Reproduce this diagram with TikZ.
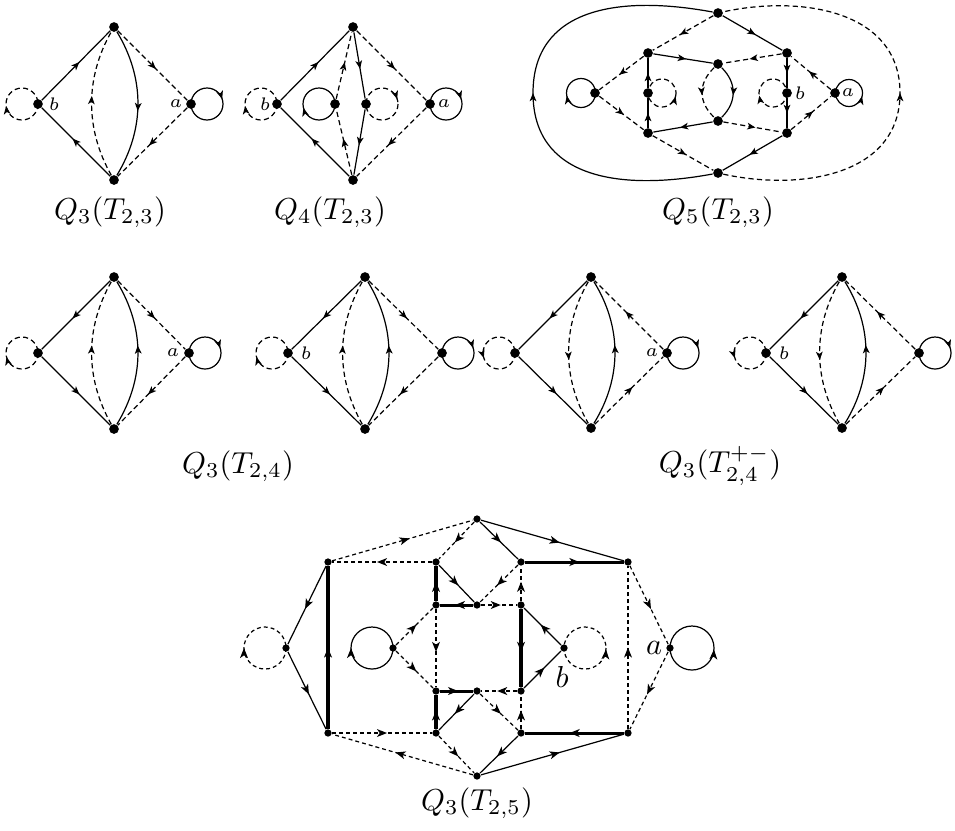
\documentclass[tikz,border=0pt]{standalone}
\usetikzlibrary{arrows.meta,decorations.markings}
\tikzset{
  dot/.style={circle,fill,inner sep=0pt,minimum size=3.2pt},
  sdot/.style={circle,fill,inner sep=0pt,minimum size=2.4pt},
  dsh/.style={dash pattern=on 1.7pt off 1.1pt},
  bdsh/.style={dash pattern=on 1.3pt off 1pt},
  thk/.style={line width=1pt},
  am/.style={postaction={decorate},decoration={markings,mark=at position #1 with {\arrow{Stealth[length=2.7pt,width=2.2pt,inset=0.7pt]}}}},
  am/.default=0.55,
  amr/.style={postaction={decorate},decoration={markings,mark=at position #1 with {\arrowreversed{Stealth[length=2.7pt,width=2.2pt,inset=0.7pt]}}}},
  bm/.style={postaction={decorate},decoration={markings,mark=at position #1 with {\arrow{Stealth[length=3.3pt,width=2.6pt,inset=0.9pt]}}}},
  bm/.default=0.55,
  bmr/.style={postaction={decorate},decoration={markings,mark=at position #1 with {\arrowreversed{Stealth[length=3.3pt,width=2.6pt,inset=0.9pt]}}}},
  lbl/.style={font=\fontsize{6}{7}\selectfont,inner sep=0pt},
  blbl/.style={inner sep=0pt},
  captxt/.style={inner sep=0pt},
}
\begin{document}
\begin{tikzpicture}[x=0.33pt,y=-0.33pt,line width=0.4pt]
\useasboundingbox (0,0) rectangle (955,830);

% ---------- Q3(T2,3)
\node[dot] (At) at (114,27) {};
\node[dot] (Ab) at (114,180) {};
\node[dot] (Al) at (38,104) {};
\node[dot] (Ar) at (191,104) {};
\draw[am] (Al) -- (At);
\draw[am] (Ab) -- (Al);
\draw[dsh,am] (At) -- (Ar);
\draw[dsh,am] (Ar) -- (Ab);
\draw[dsh,am] (Ab) .. controls +(-29,-51) and +(-29,51) .. (At);
\draw[am] (At) .. controls +(31,51) and +(31,-51) .. (Ab);
\draw[dsh,am=0.48] (22,104) circle[radius=16];
\draw[am=0.95] (207,104) circle[radius=16];
\node[lbl] at (54,104) {$b$};
\node[lbl] at (176,104) {$a$};
\node[captxt] at (110,212) {$Q_3(T_{2,3})$};

% ---------- Q4(T2,3)
\node[dot] (Bt) at (353,27) {};
\node[dot] (Bb) at (353,180) {};
\node[dot] (Bl) at (277,104) {};
\node[dot] (Bi) at (335,104) {};
\node[dot] (Bj) at (366,104) {};
\node[dot] (Br) at (430,104) {};
\draw[am] (Bl) -- (Bt);
\draw[am] (Bb) -- (Bl);
\draw[dsh,am] (Bt) -- (Br);
\draw[dsh,am] (Br) -- (Bb);
\draw[dsh,am] (Bi) -- (Bt);
\draw[dsh,am] (Bb) -- (Bi);
\draw[am] (Bt) -- (Bj);
\draw[am] (Bj) -- (Bb);
\draw[dsh,am=0.48] (261,104) circle[radius=16];
\draw[am=0.46] (319,104) circle[radius=16];
\draw[dsh,am=0.95] (382,104) circle[radius=16];
\draw[am=0.95] (446,104) circle[radius=16];
\node[lbl] at (265,104) {$b$};
\node[lbl] at (444,104) {$a$};
\node[captxt] at (330,212) {$Q_4(T_{2,3})$};

% ---------- Q5(T2,3)
\node[dot] (Ct) at (718,13) {};
\node[dot] (Cb) at (718,173) {};
\node[dot] (Cul) at (648,53) {};
\node[dot] (Cur) at (787,53) {};
\node[dot] (Cll) at (648,133) {};
\node[dot] (Clr) at (787,133) {};
\node[dot] (Cct) at (718,64) {};
\node[dot] (Ccb) at (718,121) {};
\node[dot] (Cml) at (648,93) {};
\node[dot] (Cmr) at (787,93) {};
\node[dot] (Cl) at (595,93) {};
\node[dot] (Ca) at (835,93) {};
\draw[am] (Ct) -- (Cur);
\draw[dsh,am] (Ct) -- (Cul);
\draw[dsh,am] (Cul) -- (Cl);
\draw[dsh,am] (Cl) -- (Cll);
\draw[dsh,am] (Cll) -- (Cb);
\draw[am] (Clr) -- (Cb);
\draw[dsh,am] (Ca) -- (Cur);
\draw[dsh,am] (Clr) -- (Ca);
\draw[am] (Cul) -- (Cct);
\draw[dsh,am] (Cur) -- (Cct);
\draw[am] (Ccb) -- (Cll);
\draw[dsh,am] (Ccb) -- (Clr);
\draw[am=0.5] (Cll) -- (Cml);
\draw[am=0.5] (Cml) -- (Cul);
\draw[am=0.5] (Cur) -- (Cmr);
\draw[am=0.5] (Cmr) -- (Clr);
\draw[dsh,am=0.55] (Cct) .. controls +(-20,19) and +(-20,-19) .. (Ccb);
\draw[am=0.55] (Cct) .. controls +(19,19) and +(19,-19) .. (Ccb);
\draw[am=0.5] (Cb) .. controls (615,192) and (533,176) .. (533,93) .. controls (533,10) and (615,-6) .. (Ct);
\draw[dsh,am=0.5] (Cb) .. controls (800,191) and (900,176) .. (900,93) .. controls (900,10) and (800,-5) .. (Ct);
\draw[am=0.47] (581,93) circle[radius=14.5];
\draw[dsh,amr=0.04] (662,93) circle[radius=14];
\draw[dsh,am=0.47] (773,93) circle[radius=14];
\draw[amr=0.04] (849,93) circle[radius=13.5];
\node[lbl] at (800,93) {$b$};
\node[lbl] at (848,93) {$a$};
\node[captxt] at (718,212) {$Q_5(T_{2,3})$};

% ---------- Q3(T2,4) left
\node[dot] (Dt) at (114,277) {};
\node[dot] (Db) at (114,429) {};
\node[dot] (Dl) at (38,353) {};
\node[dot] (Dr) at (189,353) {};
\draw[am] (Dt) -- (Dl);
\draw[am] (Dl) -- (Db);
\draw[dsh,am] (Dt) -- (Dr);
\draw[dsh,am] (Dr) -- (Db);
\draw[dsh,am] (Db) .. controls +(-29,-51) and +(-29,51) .. (Dt);
\draw[am] (Db) .. controls +(31,-51) and +(31,51) .. (Dt);
\draw[dsh,am=0.46] (22,353) circle[radius=16];
\draw[am=0.95] (205,353) circle[radius=16];
\node[lbl] at (173,353) {$a$};

% ---------- Q3(T2,4) right
\node[dot] (Et) at (365,277) {};
\node[dot] (Eb) at (365,429) {};
\node[dot] (El) at (288,353) {};
\node[dot] (Er) at (442,353) {};
\draw[am] (Et) -- (El);
\draw[am] (El) -- (Eb);
\draw[dsh,am] (Et) -- (Er);
\draw[dsh,am] (Er) -- (Eb);
\draw[dsh,am] (Eb) .. controls +(-29,-51) and +(-29,51) .. (Et);
\draw[am] (Eb) .. controls +(31,-51) and +(31,51) .. (Et);
\draw[dsh,am=0.46] (272,353) circle[radius=16];
\draw[am=0.95] (458,353) circle[radius=16];
\node[lbl] at (306,353) {$b$};
\node[captxt] at (238,466) {$Q_3(T_{2,4})$};

% ---------- Q3(T2,4^{+-}) left
\node[dot] (Ft) at (591,277) {};
\node[dot] (Fb) at (591,428) {};
\node[dot] (Fl) at (515,353) {};
\node[dot] (Fr) at (667,353) {};
\draw[am] (Ft) -- (Fl);
\draw[am] (Fl) -- (Fb);
\draw[dsh,am] (Fr) -- (Ft);
\draw[dsh,am] (Fb) -- (Fr);
\draw[dsh,am] (Ft) .. controls +(-29,50) and +(-29,-50) .. (Fb);
\draw[am] (Fb) .. controls +(31,-50) and +(31,50) .. (Ft);
\draw[dsh,amr=0.45] (499,353) circle[radius=16];
\draw[am=0.95] (683,353) circle[radius=16];
\node[lbl] at (652,353) {$a$};

% ---------- Q3(T2,4^{+-}) right
\node[dot] (Gt) at (842,277) {};
\node[dot] (Gb) at (842,428) {};
\node[dot] (Gl) at (766,353) {};
\node[dot] (Gr) at (919,353) {};
\draw[am] (Gt) -- (Gl);
\draw[am] (Gl) -- (Gb);
\draw[dsh,am] (Gr) -- (Gt);
\draw[dsh,am] (Gb) -- (Gr);
\draw[dsh,am] (Gt) .. controls +(-29,50) and +(-29,-50) .. (Gb);
\draw[am] (Gb) .. controls +(31,-50) and +(31,50) .. (Gt);
\draw[dsh,amr=0.45] (750,353) circle[radius=16];
\draw[am=0.95] (935,353) circle[radius=16];
\node[lbl] at (784,353) {$b$};
\node[captxt] at (720,466) {$Q_3(T^{+-}_{2,4})$};

% ---------- Q3(T2,5)
\node[sdot] (N1) at (477,519) {};
\node[sdot] (N2) at (477,776) {};
\node[sdot] (L1) at (328,562) {};
\node[sdot] (L2) at (328,733) {};
\node[sdot] (Lo) at (286,648) {};
\node[sdot] (C1) at (393,648) {};
\node[sdot] (A1) at (436,562) {};
\node[sdot] (A2) at (436,605) {};
\node[sdot] (A3) at (436,691) {};
\node[sdot] (A4) at (436,733) {};
\node[sdot] (B2) at (477,605) {};
\node[sdot] (B3) at (477,691) {};
\node[sdot] (D1) at (521,562) {};
\node[sdot] (D2) at (521,605) {};
\node[sdot] (D3) at (521,691) {};
\node[sdot] (D4) at (521,733) {};
\node[sdot] (Hb) at (564,648) {};
\node[sdot] (R1) at (628,562) {};
\node[sdot] (R2) at (628,733) {};
\node[sdot] (Ha) at (670,648) {};
% thin solid
\draw[bm] (N1) -- (R1);
\draw[bm] (N1) -- (D1);
\draw[bm] (L1) -- (Lo);
\draw[bm] (Lo) -- (L2);
\draw[bm] (A1) -- (B2);
\draw[bm] (B3) -- (A4);
\draw[bm] (Hb) -- (D2);
\draw[bm] (D3) -- (Hb);
\draw[bm] (D4) -- (N2);
\draw[bm] (N2) -- (R2);
% thick
\draw[thk,bm=0.5] (L2) -- (L1);
\draw[thk,bm] (A2) -- (A1);
\draw[thk,bm] (B2) -- (A2);
\draw[thk,bm] (A3) -- (B3);
\draw[thk,bm] (A4) -- (A3);
\draw[thk,bm] (D1) -- (R1);
\draw[thk,bm] (D2) -- (D3);
\draw[thk,bm] (R2) -- (D4);
% dashed
\draw[bdsh,bm] (L1) -- (N1);
\draw[bdsh,bm] (A1) -- (L1);
\draw[bdsh,bm] (N1) -- (A1);
\draw[bdsh,bm] (L2) -- (A4);
\draw[bdsh,bm] (N2) -- (L2);
\draw[bdsh,bm] (A4) -- (N2);
\draw[bdsh,bm] (C1) -- (A2);
\draw[bdsh,bm] (C1) -- (A3);
\draw[bdsh,bm] (A2) -- (A3);
\draw[bdsh,bm] (D1) -- (B2);
\draw[bdsh,bm] (D2) -- (D1);
\draw[bdsh,bm] (B2) -- (D2);
\draw[bdsh,bm] (D3) -- (B3);
\draw[bdsh,bm] (B3) -- (D4);
\draw[bdsh,bm] (D4) -- (D3);
\draw[bdsh,bm] (R1) -- (Ha);
\draw[bdsh,bm] (Ha) -- (R2);
\draw[bdsh,bm=0.5] (R2) -- (R1);
% loops
\draw[bdsh,bm=0.5] (265,648) circle[radius=21];
\draw[bm=0.5] (372,648) circle[radius=21];
\draw[bdsh,bmr=0.01] (585,648) circle[radius=21];
\draw[bmr=0.01] (692,648) circle[radius=22];
\node[blbl] at (654,648) {$a$};
\node[blbl] at (562,677) {$b$};
\node[captxt] at (477,803) {$Q_3(T_{2,5})$};
\end{tikzpicture}
\end{document}
